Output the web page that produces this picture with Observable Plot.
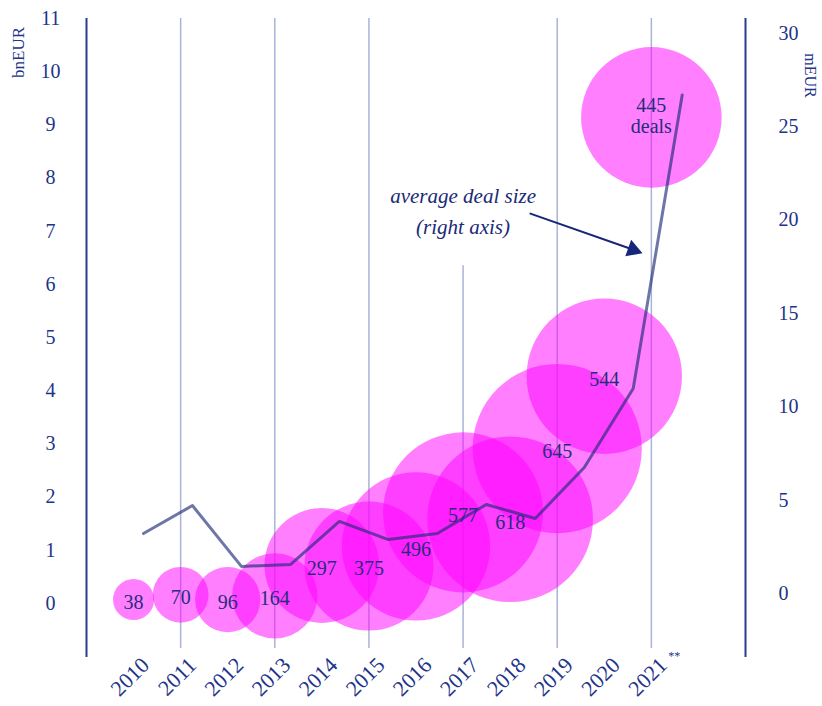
<!DOCTYPE html>
<html><head><meta charset="utf-8">
<script src="https://cdn.jsdelivr.net/npm/d3@7"></script>
<script src="https://cdn.jsdelivr.net/npm/@observablehq/plot@0.6"></script>
<style>
  html,body{margin:0;padding:0;background:#fff;}
  #chart svg{display:block;}
</style>
</head><body><div id="chart"></div>
<script>
// ---- data ----
const years = [2010, 2011, 2012, 2013, 2014, 2015, 2016, 2017, 2018, 2019, 2020, 2021];
const yearLabels = ["2010", "2011", "2012", "2013", "2014", "2015", "2016", "2017", "2018", "2019", "2020", "2021"];
const deals = [38, 70, 96, 164, 297, 375, 496, 577, 618, 645, 544, 445];
const dealLabels = ["38", "70", "96", "164", "297", "375", "496", "577", "618", "645", "544", "445\ndeals"];
const totalValueBn = [0.07, 0.16, 0.07, 0.14, 0.71, 0.70, 1.07, 1.71, 1.58, 2.91, 4.27, 9.14];
const avgDealSizeM = [3.21, 4.71, 1.45, 1.55, 3.86, 2.89, 3.21, 4.77, 4.02, 6.75, 10.98, 26.7];
const leftTicks = [0, 1, 2, 3, 4, 5, 6, 7, 8, 9, 10, 11];
const rightTicks = [0, 5, 10, 15, 20, 25, 30];
const gridYears = [2011, 2013, 2015, 2017, 2019, 2021];

// ---- helpers ----
const navy = "#22338a";
const font = "Liberation Serif";
// right axis (mEUR) expressed in left-axis (bnEUR) units
const rOff = 0.1839, rK = 0.3512;
const toLeft = m => rOff + rK * m;
const fromLeft = v => (v - rOff) / rK;
// the line series sits on a slightly wider point spacing than the bubbles
const lineX = (y, i) => y + 0.21 + 0.0405 * i;

const bubbles = years.map((y, i) => ({year: y, deals: deals[i], value: totalValueBn[i], label: dealLabels[i]}));
const linePts = years.map((y, i) => ({x: lineX(y, i), v: toLeft(avgDealSizeM[i])}));

const chart = Plot.plot({
  width: 822,
  height: 706,
  marginLeft: 86,
  marginRight: 77,
  marginTop: 18,
  marginBottom: 49,
  style: {fontFamily: font, fontSize: "20px", color: navy, background: "#fff", overflow: "visible"},
  x: {type: "linear", domain: [2009, 2023]},
  y: {domain: [-1.02, 11]},
  r: {type: "sqrt", domain: [0, 645], range: [0, 84.6]},
  marks: [
    // vertical grid lines
    Plot.ruleX(gridYears, {x: d => d, y1: -0.85, y2: d => d === 2017 ? 6.35 : 11, stroke: "#a9b3da", strokeWidth: 1.5}),
    // axis lines
    Plot.ruleX([2009, 2023], {x: d => d, y1: -1.02, y2: 11, stroke: "#2b3b8e", strokeWidth: 2}),
    // bubbles
    Plot.dot(bubbles, {x: "year", y: "value", r: "deals", fill: "#ff00ff", fillOpacity: 0.5, stroke: "none"}),
    Plot.text(bubbles.filter(d => d.year !== 2021), {x: "year", y: "value", text: "label", fill: "#272d7c", fontSize: 20, dy: 3}),
    Plot.text(bubbles.filter(d => d.year === 2021), {x: "year", y: "value", text: "label", fill: "#272d7c", fontSize: 20, dy: -2, lineHeight: 1.05}),
    // average deal size line
    Plot.line(linePts, {x: "x", y: "v", stroke: "#1e2d78", strokeOpacity: 0.65, strokeWidth: 3, strokeLinejoin: "round"}),
    // axes
    Plot.axisY(leftTicks, {anchor: "left", tickSize: 0, tickPadding: 36, textAnchor: "middle", tickFormat: d => String(d), fontSize: 20, fill: navy}),
    Plot.axisY(rightTicks.map(toLeft), {anchor: "right", tickSize: 0, tickPadding: 33, tickFormat: v => String(Math.round(fromLeft(v))), fontSize: 20, fill: navy}),
    Plot.axisX(years, {anchor: "bottom", tickSize: 0, tickPadding: 0, tickRotate: -45, tickFormat: d => yearLabels[years.indexOf(d)], dx: 12, dy: 4, fontSize: 22, fill: navy}),
    Plot.text(["**"], {x: 2021, y: -1.0, text: d => d, dx: 23, fontSize: 12, fill: navy}),
    // axis units
    Plot.text(["bnEUR"], {frameAnchor: "top-left", text: d => d, dx: -68, dy: 34, rotate: -90, textAnchor: "middle", lineAnchor: "middle", fontSize: 17, fill: navy}),
    Plot.text(["mEUR"], {frameAnchor: "top-right", text: d => d, dx: 65, dy: 57, rotate: 90, textAnchor: "middle", lineAnchor: "middle", fontSize: 16, fill: navy}),
    // annotation
    Plot.text(["average deal size\n(right axis)"], {x: 2017, y: 7.42, text: d => d, fontStyle: "italic", fontSize: 21, lineHeight: 1.45, fill: "#1a2a78"}),
    Plot.arrow([{x1: 2018.43, y1: 7.33, x2: 2020.62, y2: 6.65}], {x1: "x1", y1: "y1", x2: "x2", y2: "y2", headLength: 0, stroke: "#16267a", strokeWidth: 2}),
    Plot.dot([{x: 2020.61, y: 6.65}], {x: "x", y: "y", symbol: "triangle", r: 6.5, rotate: 109.5, fill: "#16267a", stroke: "none"})
  ]
});
document.getElementById("chart").appendChild(chart);
</script>
</body></html>
